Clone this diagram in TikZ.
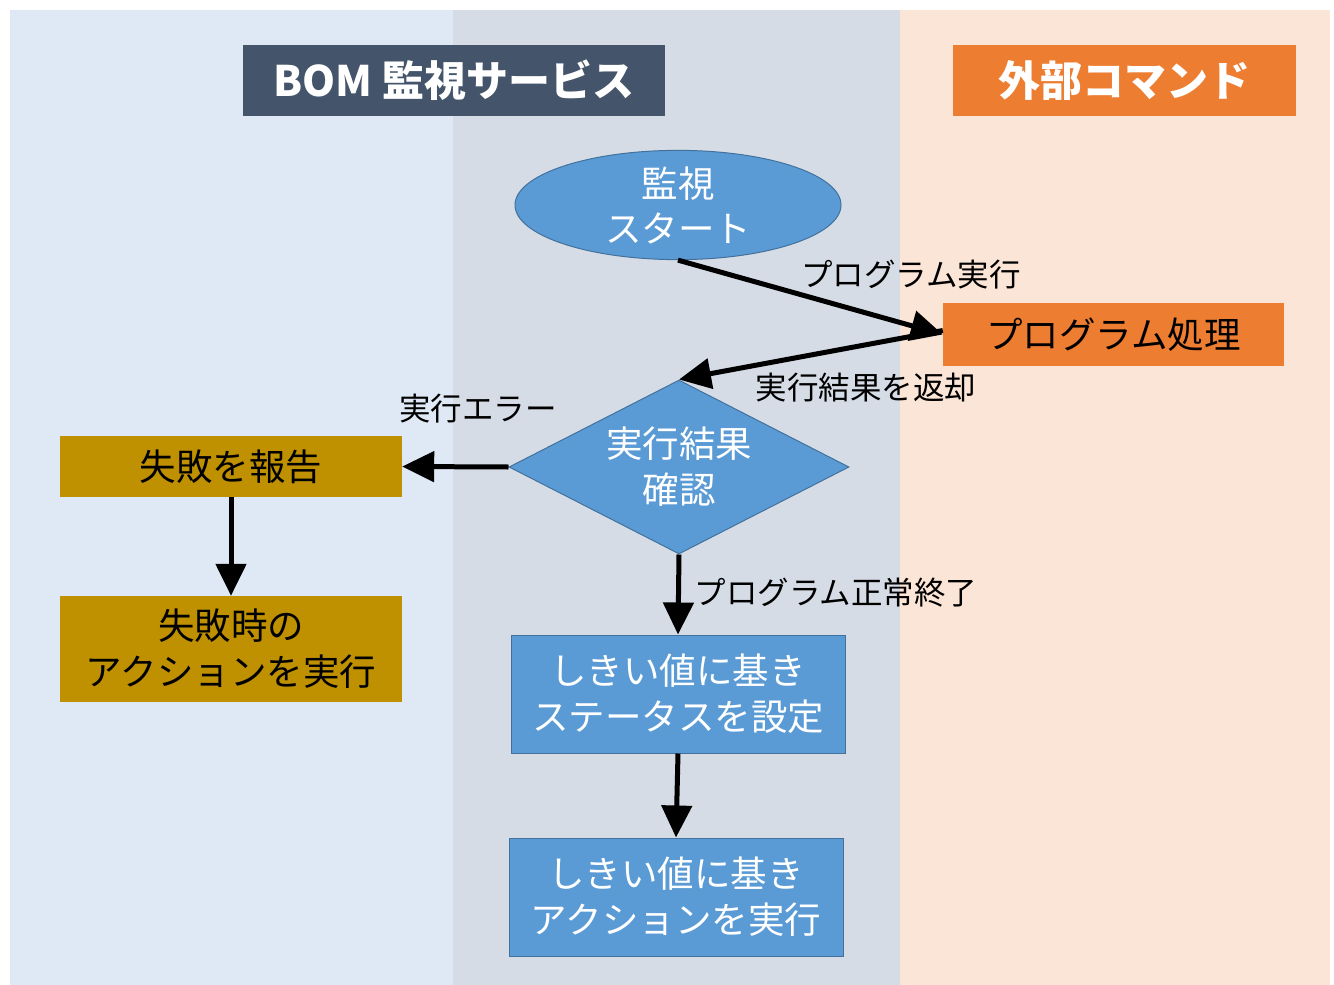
\documentclass[tikz,border=0pt]{standalone}
\usepackage{fontspec}
\setmainfont{Noto Sans CJK JP}
\usetikzlibrary{shapes.geometric,arrows.meta}
\definecolor{laneL}{HTML}{DEE9F5}
\definecolor{laneM}{HTML}{D6DCE5}
\definecolor{laneR}{HTML}{FBE5D6}
\definecolor{navy}{HTML}{44546A}
\definecolor{orng}{HTML}{ED7D31}
\definecolor{blu}{HTML}{5B9BD5}
\definecolor{bluedge}{HTML}{41719C}
\definecolor{gold}{HTML}{BF9000}
\tikzset{
  title/.style={draw=none, inner sep=0, text=white, font=\fontsize{42}{50}\selectfont\bfseries},
  bluebox/.style={rectangle, fill=blu, draw=bluedge, line width=1pt, text=white, align=center, inner sep=0, font=\fontsize{36.5}{46}\selectfont},
  goldbox/.style={rectangle, fill=gold, draw=none, text=black, align=center, inner sep=0, font=\fontsize{36.5}{46}\selectfont},
  lbl/.style={inner sep=0, font=\fontsize{31.5}{36}\selectfont, text=black},
  conn/.style={line width=5pt, -{Triangle[length=32pt,width=30pt]}},
}
\begin{document}
\begin{tikzpicture}[x=1pt,y=-1pt]
\useasboundingbox (0,0) rectangle (1334,985);
\fill[white] (0,0) rectangle (1334,985);
% lanes
\fill[laneL] (10,10) rectangle (453,985);
\fill[laneM] (453,10) rectangle (900,985);
\fill[laneR] (900,10) rectangle (1330,985);
% titles
\node[title, fill=navy, minimum width=422, minimum height=71] (t1) at (454,80.5) {BOM 監視サービス};
\node[title, fill=orng, minimum width=343, minimum height=71] (t2) at (1124.5,80.5) {外部コマンド};
% nodes
\node[ellipse, fill=blu, draw=bluedge, line width=1pt, text=white, align=center, inner sep=0,
      minimum width=326, minimum height=104, font=\fontsize{36.5}{45}\selectfont] (start) at (678,205) {監視\\スタート};
\node[rectangle, fill=orng, draw=none, inner sep=0, minimum width=341, minimum height=63,
      font=\fontsize{36.5}{46}\selectfont] (prog) at (1113.5,334.5) {プログラム処理};
\node[diamond, fill=blu, draw=bluedge, line width=1pt, text=white, align=center, inner sep=0,
      minimum width=340, minimum height=174, aspect=1.95, font=\fontsize{36.5}{46}\selectfont] (chk) at (679,467) {実行結果\\確認};
\node[goldbox, minimum width=342, minimum height=61] (rep) at (231,466.5) {失敗を報告};
\node[goldbox, minimum width=342, minimum height=106] (fact) at (231,649) {失敗時の\\アクションを実行};
\node[bluebox, minimum width=334, minimum height=118] (stat) at (678,694) {しきい値に基き\\ステータスを設定};
\node[bluebox, minimum width=334, minimum height=118] (act) at (676,897) {しきい値に基き\\アクションを実行};
% connectors
\draw[conn] (start.south) -- (prog.west);
\draw[conn] ([yshift=4]prog.west) -- (chk.north);
\draw[conn] (chk.west) -- (rep.east);
\draw[conn] (rep.south) -- (fact.north);
\draw[conn] (chk.south) -- (stat.north);
\draw[conn] (stat.south) -- (act.north);
% labels
\node[lbl] (l1) at (911,275) {プログラム実行};
\node[lbl] (l2) at (866,388) {実行結果を返却};
\node[lbl] (l3) at (478,409) {実行エラー};
\node[lbl] (l4) at (836,593) {プログラム正常終了};
\end{tikzpicture}
\end{document}
